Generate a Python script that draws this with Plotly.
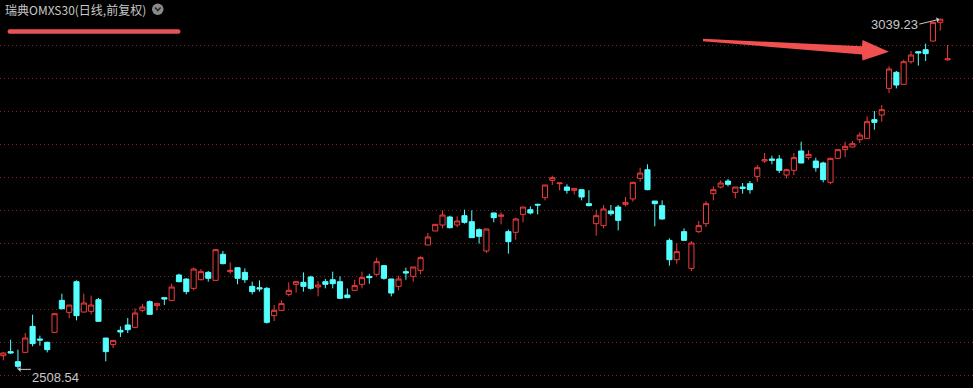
import plotly.graph_objects as go

# ---------------- data (daily OHLC, forward-adjusted) ----------------
open_ = [2529.3, 2535.4, 2520.2, 2534.3, 2573.7, 2554.5, 2549.5, 2564.6, 2613.1, 2594.9,
         2641.4, 2595.4, 2596.5, 2614.1, 2556.0, 2546.0, 2567.7, 2575.8, 2572.2, 2598.0,
         2611.1, 2605.0, 2617.2, 2613.1, 2651.5, 2645.4, 2631.3, 2644.4, 2655.5, 2643.4,
         2682.8, 2656.6, 2662.6, 2655.5, 2634.3, 2632.3, 2631.3, 2589.9, 2598.0, 2622.2,
         2637.4, 2640.4, 2648.5, 2633.3, 2641.4, 2644.4, 2641.4, 2621.2, 2628.3, 2637.4,
         2649.5, 2652.5, 2665.7, 2645.5, 2634.3, 2656.6, 2649.5, 2658.6, 2697.0, 2718.2,
         2727.3, 2739.4, 2727.3, 2741.4, 2732.3, 2720.2, 2687.9, 2745.5, 2740.4, 2717.2,
         2716.2, 2743.4, 2750.5, 2758.6, 2768.7, 2794.9, 2789.9, 2784.8, 2779.8, 2780.8,
         2759.6, 2729.3, 2726.3, 2748.5, 2754.5, 2758.6, 2766.7, 2797.9, 2811.0, 2763.6,
         2756.6, 2704.0, 2674.7, 2717.2, 2661.6, 2717.2, 2729.3, 2774.7, 2784.8, 2793.9,
         2776.7, 2784.8, 2789.9, 2801.0, 2824.2, 2827.3, 2827.3, 2803.0, 2810.1, 2839.4,
         2829.3, 2824.2, 2821.2, 2791.9, 2828.3, 2841.4, 2845.5, 2856.6, 2858.6, 2886.9,
         2893.9, 2934.3, 2958.6, 2940.4, 2974.7, 2989.9, 2992.9, 3006.0, 3034.4, 2977.5]
high = [2534.3, 2553.5, 2538.4, 2563.6, 2591.4, 2559.6, 2550.5, 2594.0, 2623.2, 2606.0,
        2643.4, 2623.2, 2620.2, 2616.7, 2556.0, 2552.5, 2573.7, 2586.4, 2601.0, 2608.0,
        2613.0, 2608.6, 2618.0, 2638.4, 2653.5, 2646.5, 2662.6, 2660.6, 2657.6, 2690.0,
        2687.9, 2670.7, 2662.6, 2661.6, 2641.4, 2643.4, 2633.3, 2606.0, 2613.1, 2640.4,
        2641.4, 2655.5, 2650.5, 2642.4, 2645.5, 2656.6, 2649.5, 2631.3, 2644.4, 2656.6,
        2653.5, 2677.8, 2666.7, 2645.5, 2650.5, 2662.6, 2663.6, 2679.8, 2715.1, 2728.3,
        2749.5, 2741.4, 2740.4, 2750.5, 2749.5, 2722.2, 2721.2, 2745.5, 2746.5, 2720.2,
        2738.4, 2754.5, 2755.5, 2759.6, 2788.0, 2802.0, 2791.5, 2788.9, 2782.8, 2780.8,
        2780.0, 2750.5, 2757.6, 2757.6, 2757.6, 2769.7, 2792.9, 2814.0, 2819.2, 2763.6,
        2764.6, 2707.1, 2700.0, 2722.2, 2703.0, 2733.3, 2763.6, 2785.8, 2794.9, 2797.0,
        2784.8, 2790.9, 2793.9, 2818.2, 2836.4, 2832.3, 2833.3, 2812.1, 2836.4, 2853.5,
        2840.4, 2829.3, 2823.2, 2829.3, 2841.4, 2853.5, 2854.5, 2867.7, 2891.9, 2900.0,
        2909.1, 2967.7, 2960.6, 2977.8, 2990.9, 2990.9, 3002.0, 3035.3, 3039.23, 3000.0]
low = [2522.2, 2532.3, 2508.54, 2534.0, 2543.4, 2544.4, 2534.3, 2564.0, 2599.0, 2585.9,
       2582.8, 2595.0, 2591.9, 2581.0, 2520.7, 2540.9, 2557.6, 2563.6, 2570.7, 2595.0,
       2591.5, 2598.0, 2606.0, 2613.0, 2640.4, 2622.2, 2628.3, 2643.4, 2641.4, 2643.0,
       2667.7, 2653.5, 2637.4, 2639.4, 2622.2, 2626.3, 2577.8, 2581.8, 2598.0, 2619.2,
       2625.2, 2626.3, 2629.3, 2619.2, 2631.3, 2631.3, 2615.1, 2616.2, 2628.0, 2631.3,
       2638.4, 2650.5, 2644.4, 2619.2, 2628.3, 2644.4, 2641.4, 2652.5, 2697.0, 2718.0,
       2722.2, 2722.2, 2724.2, 2729.3, 2708.0, 2699.0, 2684.8, 2731.3, 2728.3, 2683.8,
       2705.0, 2731.3, 2743.4, 2743.4, 2764.6, 2787.9, 2779.8, 2774.7, 2773.7, 2764.6,
       2755.5, 2711.1, 2722.2, 2741.4, 2719.2, 2755.5, 2762.6, 2792.9, 2780.0, 2725.3,
       2735.4, 2665.7, 2668.7, 2704.0, 2657.6, 2715.1, 2724.2, 2764.6, 2782.8, 2785.8,
       2767.7, 2774.7, 2774.7, 2792.9, 2821.2, 2819.2, 2806.0, 2798.0, 2803.0, 2821.0,
       2826.3, 2808.1, 2791.9, 2788.9, 2828.0, 2830.3, 2845.0, 2851.5, 2858.0, 2871.7,
       2883.8, 2927.3, 2934.3, 2940.0, 2971.7, 2968.7, 2975.8, 3006.0, 3021.7, 2976.5]
close = [2533.3, 2533.3, 2513.1, 2556.0, 2547.5, 2553.0, 2538.4, 2592.9, 2600.5, 2606.0,
         2589.9, 2609.1, 2606.0, 2581.3, 2535.4, 2552.5, 2565.1, 2568.7, 2593.9, 2603.0,
         2591.9, 2608.6, 2615.1, 2633.3, 2641.4, 2626.3, 2660.6, 2656.6, 2646.5, 2689.9,
         2668.7, 2658.6, 2646.5, 2644.4, 2626.3, 2630.3, 2579.8, 2598.0, 2608.1, 2628.3,
         2641.4, 2634.3, 2631.3, 2636.4, 2637.4, 2638.4, 2616.2, 2617.2, 2635.4, 2647.5,
         2647.5, 2671.7, 2646.5, 2624.2, 2645.5, 2654.5, 2663.6, 2677.8, 2709.1, 2728.3,
         2742.4, 2723.2, 2733.3, 2731.3, 2708.1, 2710.1, 2721.2, 2738.4, 2742.4, 2702.0,
         2736.4, 2754.5, 2745.5, 2757.6, 2787.9, 2799.0, 2790.9, 2779.8, 2782.8, 2769.7,
         2756.6, 2741.4, 2751.5, 2744.4, 2734.3, 2761.6, 2791.9, 2806.0, 2780.8, 2759.6,
         2736.4, 2674.7, 2686.9, 2704.0, 2700.0, 2726.3, 2759.6, 2780.8, 2790.9, 2788.9,
         2784.8, 2782.8, 2780.8, 2814.1, 2826.3, 2825.3, 2810.1, 2811.1, 2829.3, 2821.2,
         2834.3, 2814.1, 2796.0, 2828.3, 2841.4, 2846.5, 2850.5, 2863.6, 2883.8, 2882.8,
         2902.0, 2963.6, 2939.4, 2974.7, 2984.8, 2987.9, 2986.9, 3034.3, 3039.2, 2979.0]
grid_levels = [2500, 2550, 2600, 2650, 2700, 2750, 2800, 2850, 2900, 2950, 3000]
title_text = "瑞典OMXS30(日线,前复权)"
hi_label = "3039.23"
lo_label = "2508.54"

W, H = 973, 388
UP = "#f03c3c"
DOWN = "#54ffff"
LABEL = "#c8c8c8"
n = len(close)
xs = list(range(n))

def px(x):
    return x / W

def py(y):
    return 1 - y / H

fig = go.Figure(go.Candlestick(
    x=xs, open=open_, high=high, low=low, close=close,
    increasing=dict(line=dict(color=UP, width=1), fillcolor="#000000"),
    decreasing=dict(line=dict(color=DOWN, width=1), fillcolor=DOWN),
    whiskerwidth=0, hoverinfo="skip", showlegend=False,
))

hi_idx = high.index(max(high))
lo_idx = low.index(min(low))

annotations = [
    dict(text=title_text, xref="paper", yref="paper", x=px(3), y=py(9.5),
         xanchor="left", yanchor="middle", showarrow=False,
         font=dict(family="Noto Sans CJK SC", size=12, color=LABEL)),
    # max label: text to the left, arrow pointing at the highest high
    dict(text=hi_label, x=hi_idx, y=high[hi_idx], xref="x", yref="y",
         ax=-21, ay=5, axref="pixel", ayref="pixel", showarrow=True,
         xanchor="right", yanchor="middle", borderpad=0,
         arrowhead=1, arrowsize=0.9, arrowwidth=1, arrowcolor=LABEL, standoff=1,
         font=dict(family="Liberation Sans, Arial", size=13, color=LABEL)),
    # min label: arrow pointing left at the lowest low, text below-right
    dict(text=lo_label, x=lo_idx, y=low[lo_idx], xref="x", yref="y",
         ax=13, ay=0, axref="pixel", ayref="pixel", showarrow=True,
         xanchor="left", yanchor="top", borderpad=0,
         arrowhead=1, arrowsize=0.9, arrowwidth=1, arrowcolor=LABEL, standoff=0,
         font=dict(family="Liberation Sans, Arial", size=13, color=LABEL)),
]

def pts_path(pts):
    return "M " + " L ".join(f"{px(a):.5f},{py(b):.5f}" for a, b in pts) + " Z"

# big red arrow
arrow_pts = [(703, 38.8), (862, 46.2), (862.5, 40), (889, 51.8), (862.5, 60.5),
             (862, 54.5), (703, 41.2)]
# underline bar with rounded ends
x0u, x1u, y0u, y1u = 7.5, 180.5, 29.3, 33.7
r = (y1u - y0u) / 2
bar_path = (f"M {px(x0u + r):.5f},{py(y0u):.5f} L {px(x1u - r):.5f},{py(y0u):.5f} "
            f"C {px(x1u + r * 0.3):.5f},{py(y0u):.5f} {px(x1u + r * 0.3):.5f},{py(y1u):.5f} {px(x1u - r):.5f},{py(y1u):.5f} "
            f"L {px(x0u + r):.5f},{py(y1u):.5f} "
            f"C {px(x0u - r * 0.3):.5f},{py(y1u):.5f} {px(x0u - r * 0.3):.5f},{py(y0u):.5f} {px(x0u + r):.5f},{py(y0u):.5f} Z")

shapes = [
    dict(type="path", xref="paper", yref="paper", path=pts_path(arrow_pts),
         fillcolor="#f05050", line=dict(width=0), layer="above"),
    dict(type="path", xref="paper", yref="paper", path=bar_path,
         fillcolor="#e85454", line=dict(width=0), layer="above"),
    dict(type="circle", xref="paper", yref="paper", x0=px(152), x1=px(163.5),
         y0=py(3.5), y1=py(15), fillcolor="#8a8a8a", line=dict(width=0)),
    dict(type="path", xref="paper", yref="paper",
         path=f"M {px(155):.5f},{py(7.5):.5f} L {px(157.8):.5f},{py(10.5):.5f} L {px(160.6):.5f},{py(7.5):.5f}",
         line=dict(color="#2a2a2a", width=1.6)),
]

xpad_l = 3.3 / 7.32
fig.update_layout(
    width=W, height=H, margin=dict(l=0, r=0, t=0, b=0),
    paper_bgcolor="#000000", plot_bgcolor="#000000",
    boxgap=0.3, boxgroupgap=0,
    xaxis=dict(range=[-xpad_l, n - 1 + (W - 947.6) / 7.32], showgrid=False,
               showticklabels=False, zeroline=False, showline=False,
               rangeslider=dict(visible=False), fixedrange=True),
    yaxis=dict(range=[2480.3, 3068.2], tickvals=grid_levels, showticklabels=False,
               showgrid=True, gridcolor="#7d2626", gridwidth=1, griddash="1px,3px",
               zeroline=False, showline=False, fixedrange=True),
    annotations=annotations, shapes=shapes,
    showlegend=False,
)

fig.write_html("out.html")
